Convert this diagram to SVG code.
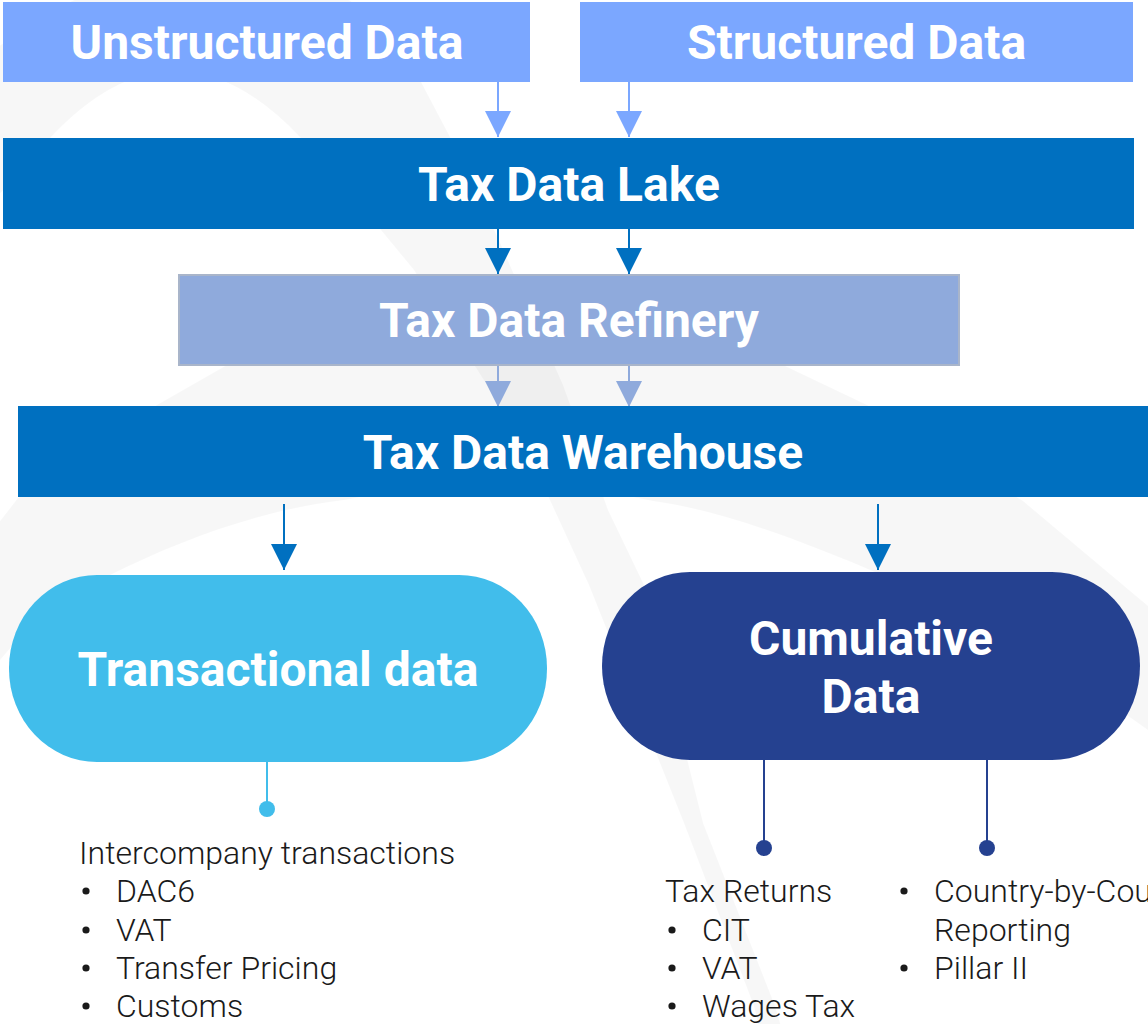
<svg xmlns="http://www.w3.org/2000/svg" width="1148" height="1024" viewBox="0 0 1148 1024">
<style>
.wm{fill:#000;fill-opacity:0.032}
.t{font-family:Roboto,"Liberation Sans",sans-serif;font-weight:700;fill:#fff;text-anchor:middle}
.b{font-family:Roboto,"Liberation Sans",sans-serif;font-weight:300;font-size:32px;fill:#1a1a1a}
.d{fill:#1a1a1a}
</style>
<defs>
<marker id="hLight" markerUnits="userSpaceOnUse" viewBox="0 0 26 26" refX="26" refY="13" markerWidth="26" markerHeight="26" orient="auto"><path d="M0,0 L26,13 L0,26 Z" fill="#7BA7FF"/></marker>
<marker id="hDark" markerUnits="userSpaceOnUse" viewBox="0 0 26 26" refX="26" refY="13" markerWidth="26" markerHeight="26" orient="auto"><path d="M0,0 L26,13 L0,26 Z" fill="#0070C0"/></marker>
<marker id="hRef" markerUnits="userSpaceOnUse" viewBox="0 0 26 26" refX="26" refY="13" markerWidth="26" markerHeight="26" orient="auto"><path d="M0,0 L26,13 L0,26 Z" fill="#8FAADC"/></marker>
</defs>
<rect width="1148" height="1024" fill="#fff"/>
<g id="watermark">
<path class="wm" d="M -150,280 C -60,-60 330,-120 421,82 L 450,137 C 475,190 495,230 512,270 L 563,385 L 608,510 L 644,585 L 703,823 L 775,1006 L 785,1040 L 762,1040 L 754,1006 L 684,823 L 589,585 L 549,498 L 487,385 L 414,270 L 381,230 L 300,137 Q 175,5 51,137 L -60,260 Z"/>
<path class="wm" d="M -80,625 L 18,498 L 157,405 L 227,365 L 300,322 L 505,300 L 710,322 L 783,365 L 867,405 L 1023,501 L 1148,606 L 1230,675 L 1230,790 L 1148,730 C 1080,680 960,610 882,575 C 800,540 720,510 653,501 L 500,470 L 344,500 C 260,510 180,540 110,575 C 60,600 25,630 0,660 L -80,740 Z"/>
</g>
<g id="connectors" stroke-width="2" fill="none">
<line x1="498" y1="82" x2="498" y2="137" stroke="#7BA7FF" marker-end="url(#hLight)"/>
<line x1="629" y1="82" x2="629" y2="137" stroke="#7BA7FF" marker-end="url(#hLight)"/>
<line x1="498" y1="229" x2="498" y2="274" stroke="#0070C0" marker-end="url(#hDark)"/>
<line x1="629" y1="229" x2="629" y2="274" stroke="#0070C0" marker-end="url(#hDark)"/>
<line x1="498" y1="366" x2="498" y2="407" stroke="#8FAADC" marker-end="url(#hRef)"/>
<line x1="629" y1="366" x2="629" y2="407" stroke="#8FAADC" marker-end="url(#hRef)"/>
<line x1="284" y1="504" x2="284" y2="570" stroke="#0070C0" marker-end="url(#hDark)"/>
<line x1="878" y1="504" x2="878" y2="570" stroke="#0070C0" marker-end="url(#hDark)"/>
<line x1="267" y1="762" x2="267" y2="809" stroke="#41BDEB"/>
<circle cx="267" cy="809" r="8" fill="#41BDEB" stroke="none"/>
<line x1="764" y1="760" x2="764" y2="848" stroke="#254190"/>
<circle cx="764" cy="848" r="8" fill="#254190" stroke="none"/>
<line x1="987" y1="760" x2="987" y2="848" stroke="#254190"/>
<circle cx="987" cy="848" r="8" fill="#254190" stroke="none"/>
</g>
<g id="unstructured">
<rect x="3" y="2" width="527" height="80" fill="#7BA7FF"/>
<text class="t" x="267" y="59" font-size="48">Unstructured Data</text>
</g>
<g id="structured">
<rect x="580" y="2" width="553" height="80" fill="#7BA7FF"/>
<text class="t" x="856.5" y="59" font-size="48">Structured Data</text>
</g>
<g id="lake">
<rect x="3" y="138" width="1131" height="91" fill="#0070C0"/>
<text class="t" x="569" y="201" font-size="48">Tax Data Lake</text>
</g>
<g id="refinery">
<rect x="179" y="275" width="780" height="90" fill="#8FAADC" stroke="#A9B5CA" stroke-width="2"/>
<text class="t" x="569" y="337" font-size="48">Tax Data Refinery</text>
</g>
<g id="warehouse">
<rect x="18" y="406" width="1140" height="91" fill="#0070C0"/>
<text class="t" x="583" y="469" font-size="48">Tax Data Warehouse</text>
</g>
<g id="transactional">
<rect x="9" y="575" width="538" height="187" rx="88" ry="93" fill="#41BDEB"/>
<text class="t" x="278" y="686" font-size="48">Transactional data</text>
</g>
<g id="cumulative">
<rect x="602" y="572" width="538" height="188" rx="88" ry="94" fill="#254190"/>
<text class="t" x="871" y="655" font-size="48">Cumulative</text>
<text class="t" x="871" y="713" font-size="48">Data</text>
</g>
<g id="transactional-list" class="b">
<text x="79" y="864">Intercompany transactions</text>
<circle class="d" cx="86" cy="891" r="3.6"/><text x="116" y="902">DAC6</text>
<circle class="d" cx="86" cy="930" r="3.6"/><text x="116" y="941">VAT</text>
<circle class="d" cx="86" cy="968" r="3.6"/><text x="116" y="979">Transfer Pricing</text>
<circle class="d" cx="86" cy="1006" r="3.6"/><text x="116" y="1017">Customs</text>
</g>
<g id="cumulative-list-1" class="b">
<text x="665" y="902">Tax Returns</text>
<circle class="d" cx="672" cy="930" r="3.6"/><text x="702" y="941">CIT</text>
<circle class="d" cx="672" cy="968" r="3.6"/><text x="702" y="979">VAT</text>
<circle class="d" cx="672" cy="1006" r="3.6"/><text x="702" y="1017">Wages Tax</text>
</g>
<g id="cumulative-list-2" class="b">
<circle class="d" cx="904" cy="891" r="3.6"/><text x="934" y="902">Country-by-Country</text>
<text x="934" y="941">Reporting</text>
<circle class="d" cx="904" cy="968" r="3.6"/><text x="934" y="979">Pillar II</text>
</g>
</svg>
